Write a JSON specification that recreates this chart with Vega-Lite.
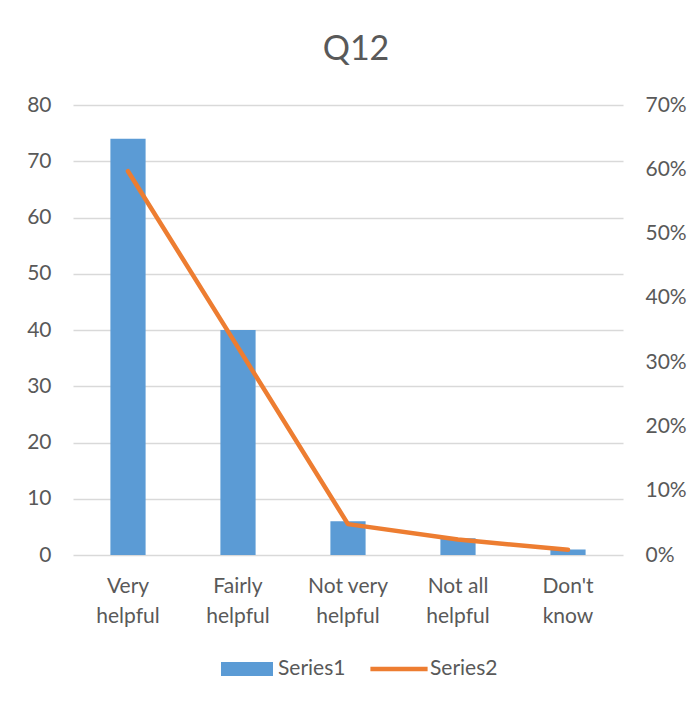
{
  "$schema": "https://vega.github.io/schema/vega-lite/v6.json",
  "width": 550,
  "height": 450,
  "autosize": "none",
  "padding": {"left": 73, "top": 105, "right": 76, "bottom": 149},
  "background": "white",
  "title": {
    "text": "Q12",
    "fontSize": 34,
    "font": "Lato",
    "fontWeight": "normal",
    "color": "#595959",
    "anchor": "middle",
    "frame": "group",
    "offset": 27,
    "dx": 8
  },
  "data": {
    "values": [
      {"category": "Very helpful", "count": 74, "share": 0.597},
      {"category": "Fairly helpful", "count": 40, "share": 0.323},
      {"category": "Not very helpful", "count": 6, "share": 0.048},
      {"category": "Not all helpful", "count": 3, "share": 0.024},
      {"category": "Don't know", "count": 1, "share": 0.008}
    ]
  },
  "encoding": {
    "x": {
      "field": "category",
      "type": "nominal",
      "sort": null,
      "title": null,
      "scale": {"paddingInner": 0.68, "paddingOuter": 0.34},
      "axis": {
        "labelAngle": 0,
        "ticks": false,
        "domain": false,
        "grid": false,
        "labelPadding": 20,
        "labelLineHeight": 30,
        "labelExpr": "indexof(datum.value, 'Not ') == 0 ? [slice(datum.value, 0, lastindexof(datum.value, ' ')), 'helpful'] : split(datum.value, ' ')"
      }
    }
  },
  "layer": [
    {
      "mark": {"type": "bar"},
      "encoding": {
        "y": {
          "field": "count",
          "type": "quantitative",
          "title": null,
          "scale": {"domain": [0, 80], "nice": false},
          "axis": {
            "orient": "left",
            "values": [0, 10, 20, 30, 40, 50, 60, 70, 80],
            "grid": true,
            "ticks": false,
            "domain": false,
            "labelPadding": 22
          }
        },
        "color": {
          "datum": "Series1",
          "type": "nominal",
          "scale": {"domain": ["Series1", "Series2"], "range": ["#5B9BD5", "#ED7D31"]},
          "legend": {
            "title": null,
            "orient": "none",
            "legendX": 148,
            "legendY": 538,
            "direction": "horizontal",
            "symbolSize": 2704,
            "labelOffset": 5,
            "columnPadding": 24,
            "encode": {
              "symbols": {
                "update": {
                  "shape": {"signal": "datum.value == 'Series1' ? 'M-1,-0.27H1V0.27H-1Z' : 'M-1.1,-0.09H1.1V0.09H-1.1Z'"},
                  "fill": {"signal": "datum.value == 'Series1' ? '#5B9BD5' : '#ED7D31'"},
                  "strokeWidth": {"value": 0},
                  "opacity": {"value": 1}
                }
              }
            }
          }
        }
      }
    },
    {
      "mark": {"type": "line", "strokeWidth": 4.5, "strokeCap": "round", "strokeJoin": "round"},
      "encoding": {
        "y": {
          "field": "share",
          "type": "quantitative",
          "title": null,
          "scale": {"domain": [0, 0.7], "nice": false},
          "axis": {
            "orient": "right",
            "values": [0, 0.1, 0.2, 0.3, 0.4, 0.5, 0.6, 0.7],
            "format": ".0%",
            "grid": false,
            "ticks": false,
            "domain": false,
            "labelPadding": 22
          }
        },
        "color": {"datum": "Series2", "type": "nominal"}
      }
    }
  ],
  "resolve": {"scale": {"y": "independent"}},
  "config": {
    "view": {"stroke": null},
    "font": "Lato",
    "axis": {
      "labelFont": "Lato",
      "labelFontSize": 21,
      "labelColor": "#595959",
      "gridColor": "#d9d9d9",
      "gridWidth": 1.3
    },
    "legend": {
      "labelFont": "Lato",
      "labelFontSize": 21,
      "labelColor": "#595959"
    }
  }
}
